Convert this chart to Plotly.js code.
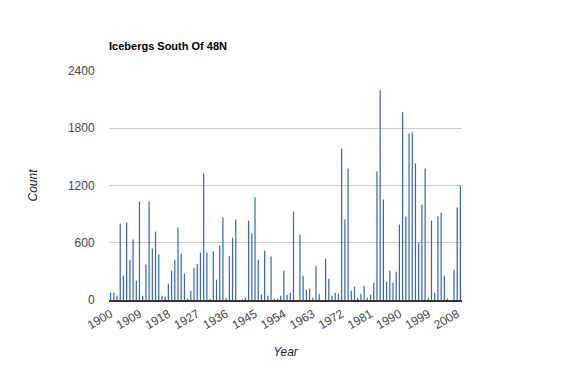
<!DOCTYPE html>
<html>
<head>
<meta charset="utf-8">
<script src="https://cdn.plot.ly/plotly-3.0.1.min.js"></script>
<style>
html,body{margin:0;padding:0;background:#fff;}
#chart{width:572px;height:371px;}
</style>
</head>
<body>
<div id="chart"></div>
<script>
const chartTitle = "Icebergs South Of 48N";
const xTitle = "Year";
const yTitle = "Count";
const firstYear = 1900;
const icebergCounts = [
  77, 77, 45, 801, 255, 812, 423, 633, 203, 1032,
  45, 371, 1032, 539, 717, 476, 45, 35, 171, 308,
  423, 759, 486, 276, 14, 98, 339, 381, 497, 1326,
  497, 14, 507, 213, 570, 864, 24, 465, 654, 843,
  0, 6, 24, 833, 696, 1074, 423, 56, 518, 45,
  455, 14, 14, 45, 308, 56, 77, 927, 0, 686,
  255, 108, 119, 24, 360, 66, 0, 434, 224, 45,
  77, 66, 1589, 843, 1379, 98, 140, 24, 66, 150,
  24, 56, 182, 1347, 2198, 1053, 192, 308, 182, 297,
  791, 1967, 875, 1746, 1757, 1431, 602, 1000, 1379, 24,
  833, 77, 875, 917, 255, 14, 0, 318, 969, 1200
];
const years = icebergCounts.map((_, i) => firstYear + i);
const xTickVals = [1900, 1909, 1918, 1927, 1936, 1945, 1954, 1963, 1972, 1981, 1990, 1999, 2008];
const yTickVals = [0, 600, 1200, 1800, 2400];

const trace = {
  type: 'bar',
  x: years,
  y: icebergCounts,
  marker: {color: '#3366cc', line: {width: 0}},
  hoverinfo: 'x+y'
};

const layout = {
  width: 572,
  height: 371,
  margin: {l: 109, r: 110, t: 71, b: 71, pad: 0},
  paper_bgcolor: '#ffffff',
  plot_bgcolor: '#ffffff',
  font: {family: 'Arial, "Liberation Sans", sans-serif', size: 12, color: '#444'},
  bargap: 0.62,
  showlegend: false,
  title: {
    text: '<b>' + chartTitle + '</b>',
    font: {size: 11, color: '#000', family: 'Arial, "Liberation Sans", sans-serif'},
    xref: 'container', yref: 'container',
    x: 109 / 572, xanchor: 'left',
    y: 1 - 46 / 371, yanchor: 'middle'
  },
  xaxis: {
    range: [firstYear - 0.5, firstYear + icebergCounts.length - 0.5],
    tickmode: 'array',
    tickvals: xTickVals,
    ticktext: xTickVals.map(String),
    tickangle: -30,
    ticks: 'outside', ticklen: 1, tickcolor: 'rgba(0,0,0,0)',
    tickfont: {size: 12, color: '#444'},
    showgrid: false,
    showline: true, linecolor: '#333', linewidth: 1.5,
    zeroline: false,
    fixedrange: true,
    title: {text: '<i>' + xTitle + '</i>', font: {size: 12, color: '#222'}, standoff: 16}
  },
  yaxis: {
    range: [0, 2400],
    tickmode: 'array',
    tickvals: yTickVals,
    ticks: 'outside', ticklen: 11, tickcolor: 'rgba(0,0,0,0)',
    tickfont: {size: 12, color: '#444'},
    showgrid: true, gridcolor: '#cccccc', gridwidth: 1,
    zeroline: false,
    showline: false,
    fixedrange: true,
    title: {text: '<i>' + yTitle + '</i>', font: {size: 12, color: '#222'}, standoff: 27}
  }
};

Plotly.newPlot('chart', [trace], layout, {displayModeBar: false, staticPlot: true});
</script>
</body>
</html>
